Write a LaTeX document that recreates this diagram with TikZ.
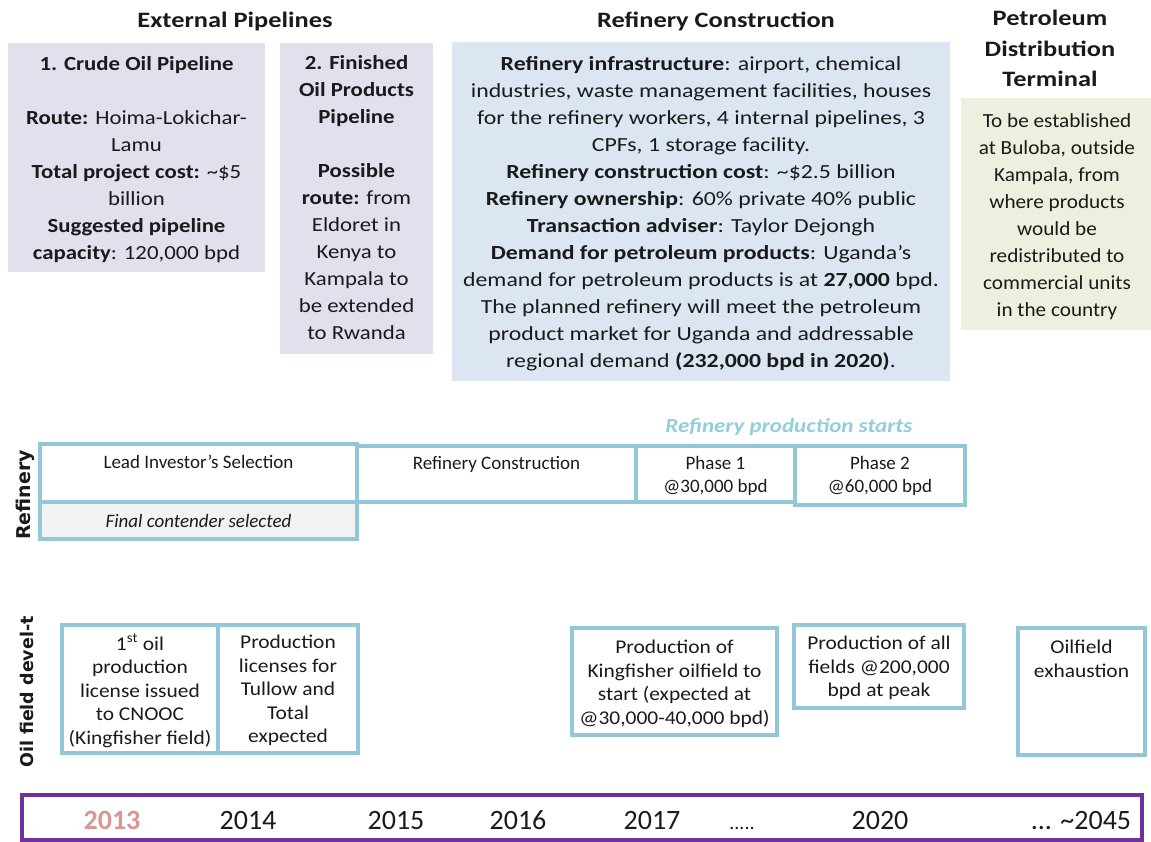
\documentclass[tikz,border=0pt]{standalone}
\usepackage{fontspec}
\setmainfont{Carlito}
\newfontfamily\labelfont{DejaVu Sans}
\newfontfamily\fstrA{Carlito}[FakeStretch=1.14]
\newfontfamily\fstrB{Carlito}[FakeStretch=1.19]
\newfontfamily\fstrC{Carlito}[FakeStretch=1.06]
\newfontfamily\fstrT{Carlito}[FakeStretch=1.2]
\newfontfamily\fstrO{Carlito}[FakeStretch=1.1]
\newfontfamily\fstrS{Carlito}[FakeStretch=1.15]
\definecolor{lav}{HTML}{E4DFEC}
\definecolor{lblue}{HTML}{DCE6F2}
\definecolor{lgreen}{HTML}{EBF1DE}
\definecolor{cellborder}{HTML}{93C6D6}
\definecolor{startcol}{HTML}{93CDDD}
\definecolor{graycell}{HTML}{F2F2F2}
\definecolor{tlpurple}{HTML}{7030A0}
\definecolor{yr13}{HTML}{D99694}
\definecolor{txt}{HTML}{1A1A1A}
\begin{document}
\begin{tikzpicture}[x=1pt,y=-1pt,
  panel/.style={anchor=north west, inner sep=0pt, outer sep=0pt, draw=none},
  cell/.style={anchor=north west, inner sep=0pt, outer sep=0pt, draw=cellborder, line width=3.5pt},
  title/.style={font=\fstrT\fontsize{22}{30.5}\selectfont\bfseries, align=center, inner sep=0pt, anchor=north, text=txt},
  body/.style={font=\fontsize{20}{27}\selectfont, align=center, inner sep=0pt, anchor=north, text=txt},
  celltext/.style={font=\fontsize{19}{23.5}\selectfont, align=center, inner sep=0pt, anchor=north, text=txt},
  oiltext/.style={font=\fstrO\fontsize{19.5}{23.5}\selectfont, align=center, inner sep=0pt, anchor=north, text=txt},
  rowlabel/.style={font=\labelfont\fontsize{19}{22}\selectfont\bfseries, rotate=90, inner sep=0pt, text=txt},
  year/.style={font=\fontsize{28}{30}\selectfont, inner sep=0pt, anchor=base, text=txt}
]
\useasboundingbox (0,0) rectangle (1151,842);

% ---------- titles ----------
\node[title] (tExt) at (235,12) {External Pipelines};
\node[title] (tRef) at (716,12) {Refinery Construction};
\node[title] (tPet) at (1050,10) {Petroleum\\Distribution\\Terminal};

% ---------- top panels ----------
\node[panel, fill=lav, minimum width=257pt, minimum height=229pt] (p1) at (8,43) {};
\node[body, font=\fstrA\fontsize{20}{27}\selectfont] (p1t) at (136.5,56) {\textbf{1. Crude Oil Pipeline}\\[27pt]
  \textbf{Route:} Hoima-Lokichar-\\Lamu\\
  \textbf{Total project cost:} \textasciitilde\$5\\billion\\
  \textbf{Suggested pipeline}\\\textbf{capacity}: 120,000 bpd};

\node[panel, fill=lav, minimum width=153pt, minimum height=311pt] (p2) at (280,43) {};
\node[body, font=\fstrA\fontsize{20}{27}\selectfont] (p2t) at (356.5,55) {\textbf{2. Finished}\\\textbf{Oil Products}\\\textbf{Pipeline}\\[27pt]
  \textbf{Possible}\\\textbf{route:} from\\Eldoret in\\Kenya to\\Kampala to\\be extended\\to Rwanda};

\node[panel, fill=lblue, minimum width=498pt, minimum height=339pt] (p3) at (452,42) {};
\node[body, font=\fstrB\fontsize{20}{27}\selectfont] (p3t) at (701,56) {\textbf{Refinery infrastructure}: airport, chemical\\
  industries, waste management facilities, houses\\
  for the refinery workers, 4 internal pipelines, 3\\
  CPFs, 1 storage facility.\\
  \textbf{Refinery construction cost}: \textasciitilde\$2.5 billion\\
  \textbf{Refinery ownership}: 60\% private 40\% public\\
  \textbf{Transaction adviser}: Taylor Dejongh\\
  \textbf{Demand for petroleum products}: Uganda’s\\
  demand for petroleum products is at \textbf{27,000} bpd.\\
  The planned refinery will meet the petroleum\\
  product market for Uganda and addressable\\
  regional demand \textbf{(232,000 bpd in 2020)}.};

\node[panel, fill=lgreen, minimum width=190pt, minimum height=232pt] (p4) at (961,98) {};
\node[body, font=\fstrC\fontsize{20}{27}\selectfont] (p4t) at (1057,113) {To be established\\at Buloba, outside\\Kampala, from\\where products\\would be\\redistributed to\\commercial units\\in the country};

% ---------- refinery row ----------
\node[rowlabel] (lRef) at (25,495) {Refinery};
\node[font=\fstrS\fontsize{20}{24}\selectfont\bfseries\itshape, text=startcol, inner sep=0pt] (start) at (789,427) {Refinery production starts};

\node[cell, fill=graycell, minimum width=317pt, minimum height=37pt] (final) at (40,502) {};
\node[cell, minimum width=317pt, minimum height=58pt] (lead) at (40,444) {};
\node[cell, minimum width=279pt, minimum height=56pt] (constr) at (357,446) {};
\node[cell, minimum width=159pt, minimum height=56pt] (ph1) at (636,446) {};
\node[cell, minimum width=170pt, minimum height=59pt] (ph2) at (795,446) {};

\node[celltext] (leadT) at (lead.north |- 0,455) {Lead Investor’s Selection};
\node[celltext, font=\fontsize{19}{23.5}\selectfont\itshape] (finalT) at (final.north |- 0,514) {Final contender selected};
\node[celltext] (constrT) at (constr.north |- 0,456) {Refinery Construction};
\node[celltext] (ph1T) at (ph1.north |- 0,456) {Phase 1\\@30,000 bpd};
\node[celltext] (ph2T) at (ph2.north |- 0,456) {Phase 2\\@60,000 bpd};

% ---------- oil field row ----------
\node[rowlabel, font=\labelfont\fontsize{17.5}{20}\selectfont\bfseries] (lOil) at (27,692) {Oil field devel-t};

\node[cell, minimum width=156pt, minimum height=128pt] (oa) at (62,625) {};
\node[cell, minimum width=140pt, minimum height=128pt] (ob) at (218,625) {};
\node[cell, minimum width=205pt, minimum height=107pt] (oc) at (572,628) {};
\node[cell, minimum width=170pt, minimum height=83pt] (od) at (794,625) {};
\node[cell, minimum width=127pt, minimum height=127pt] (oe) at (1018,628) {};

\node[oiltext] (oaT) at (oa.north |- 0,634) {1\textsuperscript{st} oil\\production\\license issued\\to CNOOC\\(Kingfisher field)};
\node[oiltext] (obT) at (ob.north |- 0,635) {Production\\licenses for\\Tullow and\\Total\\expected};
\node[oiltext] (ocT) at (oc.north |- 0,640) {Production of\\Kingfisher oilfield to\\start (expected at\\@30,000-40,000 bpd)};
\node[oiltext] (odT) at (od.north |- 0,636) {Production of all\\fields @200,000\\bpd at peak};
\node[oiltext] (oeT) at (oe.north |- 0,640) {Oilfield\\exhaustion};

% ---------- timeline ----------
\node[anchor=north west, inner sep=0pt, outer sep=0pt, draw=tlpurple, line width=4pt, minimum width=1120pt, minimum height=45pt] (tl) at (22,795) {};
\node[year, text=yr13, font=\fontsize{28}{30}\selectfont\bfseries] (y13) at (112,829) {2013};
\node[year] (y14) at (248,829) {2014};
\node[year] (y15) at (396,829) {2015};
\node[year] (y16) at (518,829) {2016};
\node[year] (y17) at (652,829) {2017};
\node[year, font=\fontsize{20}{24}\selectfont] (ydots) at (742,829) {.....};
\node[year] (y20) at (880,829) {2020};
\node[year] (y45) at (1081,829) {... \textasciitilde2045};
\end{tikzpicture}
\end{document}
